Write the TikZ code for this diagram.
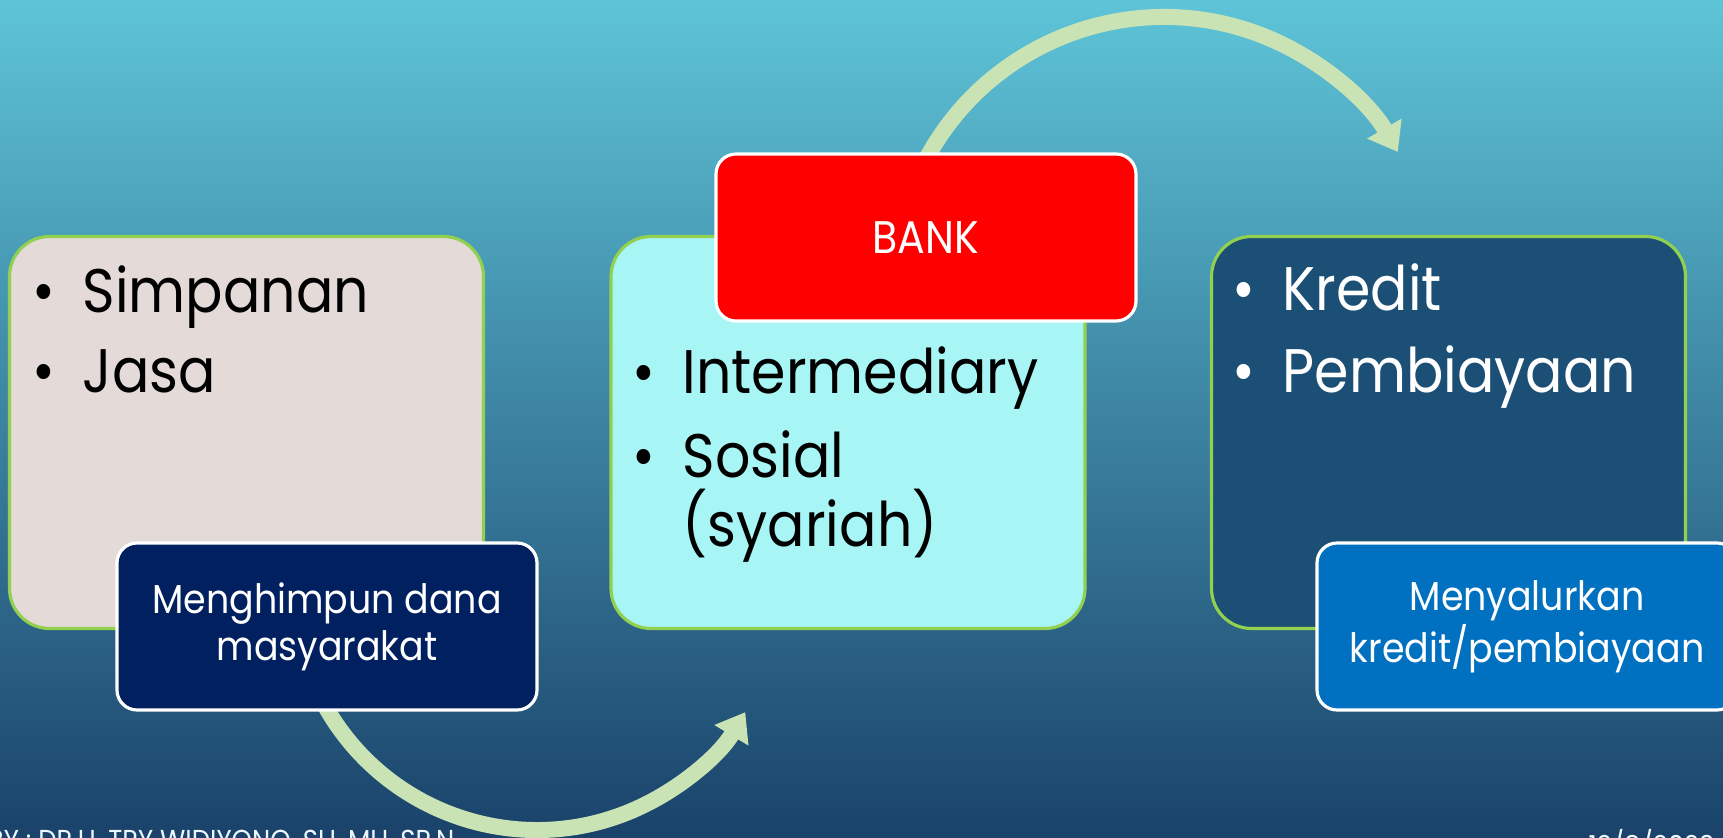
\documentclass[tikz,border=0pt]{standalone}
\usepackage{fontspec}
\setmainfont{Poppins}
\newfontfamily\gothic[FakeStretch=0.9]{Poppins}
\usetikzlibrary{positioning}
\usetikzlibrary{arrows.meta}
\definecolor{bgtop}{RGB}{94,196,216}
\definecolor{bgmid}{RGB}{64,152,182}
\definecolor{bgbot}{RGB}{26,66,106}
\definecolor{edgegreen}{RGB}{146,208,80}
\definecolor{flowgreen}{RGB}{201,227,180}
\definecolor{sumberfill}{RGB}{228,218,216}
\definecolor{bankfill}{RGB}{168,245,245}
\definecolor{salurfill}{RGB}{28,79,117}
\definecolor{navy}{RGB}{0,32,96}
\definecolor{bankred}{RGB}{255,0,0}
\definecolor{salurblue}{RGB}{0,112,192}
\tikzset{bigbox/.style={draw=edgegreen, line width=0.9pt, rounded corners=0.4cm, minimum width=4.74cm, minimum height=3.92cm, inner sep=0pt}}
\tikzset{tagbox/.style={draw=white, line width=0.9pt, rounded corners=0.2cm, minimum width=4.2cm, minimum height=1.67cm, align=center, text=white, font=\gothic\fontsize{11.5}{13.4}\selectfont}}
\tikzset{itemtxt/.style={anchor=base west, inner sep=0pt, align=left, font=\gothic\fontsize{17.5}{23}\selectfont}}
\tikzset{flow/.style={flowgreen, line width=0.16cm, -{Triangle[length=0.27cm,width=0.38cm]}}}
\tikzset{foot/.style={anchor=north east, inner sep=0pt, text=white!92!cyan, font=\gothic\fontsize{8.2}{9}\selectfont}}
\newcommand{\bul}{\makebox[0.2cm]{\textbullet}\hspace{0.29cm}}

\begin{document}
\begin{tikzpicture}
\useasboundingbox (0,0) rectangle (17.23,-8.38);
\shade[top color=bgtop, middle color=bgmid, bottom color=bgbot] (0,0) rectangle (17.23,-8.38);

% footer
\node[foot] (oleh) at (4.55,-8.29) {BY : DR.H. TRY WIDIYONO, SH, MH, SP.N};
\node[foot] (tanggal) at (17.15,-8.29) {12/8/2023};

% arcs
\coordinate (atas) at (11.64,-2.87);
\coordinate (bawah) at (5.37,-5.87);
\draw[flow] ([shift={(155:2.7)}]atas) arc[start angle=155, end angle=30, radius=2.7];
\draw[flow] ([shift={(205:2.43)}]bawah) arc[start angle=205, end angle=329, radius=2.43];

\begin{scope}[on grid]
\node[bigbox, fill=sumberfill] (sumber) at (2.465,-4.325) {};
\node[bigbox, fill=bankfill] (perantara) at (8.48,-4.325) {};
\node[bigbox, fill=salurfill] (salur) at (14.485,-4.325) {};

% anchored at the last baseline
\node[itemtxt] (sumberTxt) at (0.33,-3.93) {\bul Simpanan\\ \bul Jasa};
\node[itemtxt] (perantaraTxt) at (6.33,-5.47)
 {\bul Intermediary\\[0.9pt] \bul Sosial\\[-3.1pt] \hspace{0.49cm}(syariah)};
\node[itemtxt, text=white] (salurTxt) at (12.33,-3.93) {\bul Kredit\\[0.6pt] \bul Pembiayaan};

\node[tagbox, fill=navy] (himpun) [below right = 1.94 and 0.805 of sumber] {Menghimpun dana\\masyarakat};
\node[tagbox, fill=bankred, font=\gothic\fontsize{13}{15}\selectfont] (bank) [above right = 1.95 and 0.78 of perantara] {BANK};
\node[tagbox, fill=salurblue] (menyalur) [below right = 1.94 and 0.785 of salur] {Menyalurkan\\kredit/pembiayaan};
\end{scope}
\end{tikzpicture}
\end{document}
